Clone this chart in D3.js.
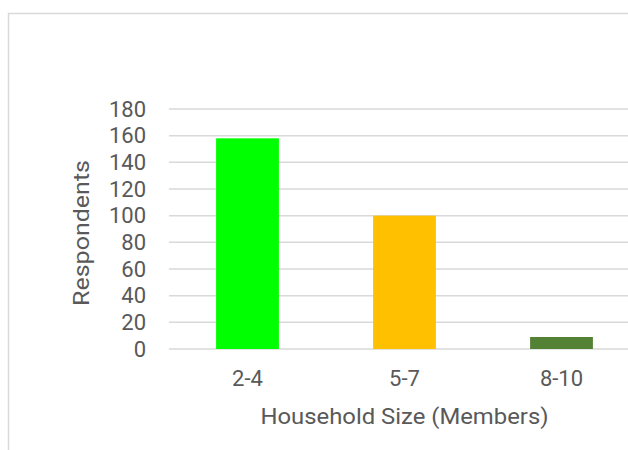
<!DOCTYPE html>
<html>
<head>
<meta charset="utf-8">
<script src="https://cdn.jsdelivr.net/npm/d3@7"></script>
<style>
  body { margin: 0; background: #fff; }
  text { font-family: Roboto, "Noto Sans", sans-serif; fill: #595959; }
</style>
</head>
<body>
<svg width="628" height="450"></svg>
<script>
// household size survey
var categories = ["2-4", "5-7", "8-10"];
var respondents = [158, 100, 9];
var barColors = ["#00ff00", "#ffc000", "#548235"];
var yTicks = [0, 20, 40, 60, 80, 100, 120, 140, 160, 180];

function main() {
  var svg = d3.select("svg");

  // chart area frame (runs off the right and bottom)
  svg.append("rect")
    .attr("x", 8.5).attr("y", 13.5)
    .attr("width", 700).attr("height", 500)
    .attr("fill", "none")
    .attr("stroke", "#d9d9d9")
    .attr("stroke-width", 1.5);

  var left = 169, right = 640, top = 109, bottom = 349;

  var xScale = d3.scaleBand().domain(categories).range([left, right]).paddingInner(0.6).paddingOuter(0.3);
  var yScale = d3.scaleLinear().domain([0, 180]).range([bottom, top]);

  // gridlines
  svg.append("g")
    .selectAll("line")
    .data(yTicks)
    .enter().append("line")
    .attr("x1", left).attr("x2", right)
    .attr("y1", function(d) { return yScale(d); })
    .attr("y2", function(d) { return yScale(d); })
    .attr("stroke", "#d9d9d9")
    .attr("stroke-width", 1.5);

  // y axis labels
  var yAxis = svg.append("g")
    .attr("transform", "translate(" + left + ",0)")
    .call(d3.axisLeft(yScale).tickValues(yTicks).tickSize(0).tickPadding(23));
  yAxis.select(".domain").remove();
  yAxis.selectAll("text").style("font-size", "22px").attr("fill", "#595959");

  // bars
  svg.selectAll(".bar")
    .data(categories)
    .enter().append("rect")
    .attr("class", "bar")
    .attr("x", function(d) { return xScale(d); })
    .attr("y", function(d, i) { return yScale(respondents[i]); })
    .attr("width", xScale.bandwidth())
    .attr("height", function(d, i) { return bottom - yScale(respondents[i]); })
    .attr("fill", function(d, i) { return barColors[i]; });

  // x axis labels
  var xAxis = svg.append("g")
    .attr("transform", "translate(0," + bottom + ")")
    .call(d3.axisBottom(xScale).tickSize(0).tickPadding(21));
  xAxis.select(".domain").remove();
  xAxis.selectAll("text").style("font-size", "22px").attr("fill", "#595959");

  // axis titles
  svg.append("text")
    .attr("x", (left + right) / 2)
    .attr("y", 424)
    .attr("text-anchor", "middle")
    .attr("textLength", 288)
    .attr("lengthAdjust", "spacingAndGlyphs")
    .style("font-size", "22px")
    .text("Household Size (Members)");

  svg.append("text")
    .attr("transform", "translate(89,233) rotate(-90)")
    .attr("text-anchor", "middle")
    .attr("textLength", 146)
    .attr("lengthAdjust", "spacingAndGlyphs")
    .style("font-size", "22px")
    .text("Respondents");
}
main();
</script>
</body>
</html>
